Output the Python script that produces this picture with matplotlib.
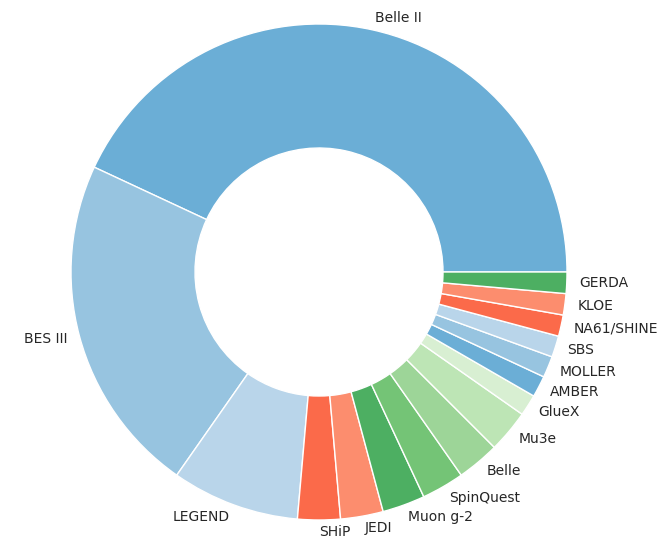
import matplotlib.pyplot as plt

labels = ["Belle II", "BES III", "LEGEND", "SHiP", "JEDI", "Muon g-2", "SpinQuest",
          "Belle", "Mu3e", "GlueX", "AMBER", "MOLLER", "SBS", "NA61/SHINE", "KLOE", "GERDA"]
counts = [31, 16, 6, 2, 2, 2, 2, 2, 2, 1, 1, 1, 1, 1, 1, 1]

palette = ["#6baed6", "#97c4e0", "#b9d5ea", "#fb6a4a", "#fc8d6e",
           "#4daf62", "#74c476", "#9dd598", "#bde5b5", "#d8efd2"]
colors = [palette[i % len(palette)] for i in range(len(counts))]

fig = plt.figure(figsize=(6.67, 5.44), dpi=100)
ax = fig.add_axes([0, 0, 1, 1])
ax.pie(counts, labels=labels, colors=colors, startangle=0, labeldistance=1.05,
       wedgeprops=dict(width=0.5, edgecolor="white", linewidth=1),
       textprops=dict(fontsize=10, color="#262626"))

# place the pie: center at (319, 272) px, radius 248 px
r = 248.
ax.set_aspect("auto")
ax.set_xlim(-319 / r, (667 - 319) / r)
ax.set_ylim(-(544 - 272) / r, 272 / r)
ax.axis("off")

plt.savefig("out.png", dpi=100)
